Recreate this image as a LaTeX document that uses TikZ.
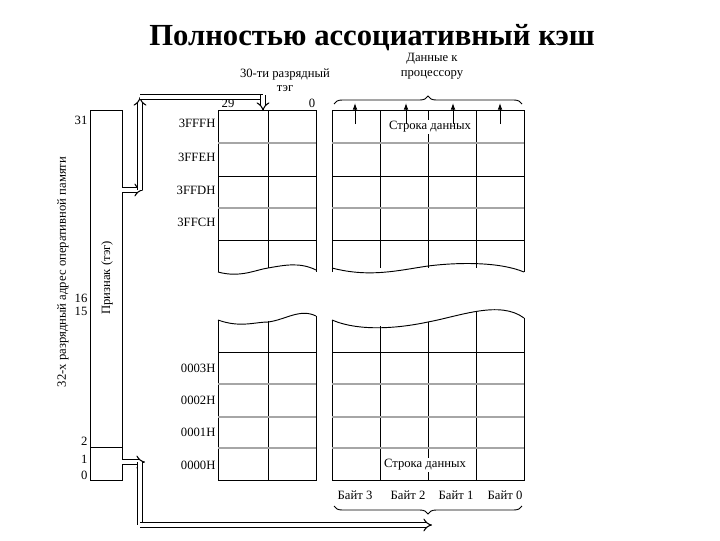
\documentclass[tikz,border=0pt]{standalone}
\usepackage{fontspec}
\setmainfont{Liberation Serif}
\usetikzlibrary{arrows.meta,decorations.pathreplacing}
\begin{document}
\begin{tikzpicture}[x=0.75pt,y=-0.75pt,
  grid/.style={line width=0.7pt},
  gl/.style={draw=gray!70,line width=0.9pt},
  lbl/.style={font=\fontsize{9.5}{11}\selectfont,inner sep=1pt},
  dbl/.style={draw=black,double=white,double distance=2.5pt,line width=0.8pt,-{Implies}},
  dbln/.style={draw=black,double=white,double distance=2.5pt,line width=0.8pt}]
\useasboundingbox (0,0) rectangle (720,540);
\node[font=\bfseries\fontsize{23}{26}\selectfont] (title) at (372,38) {Полностью ассоциативный кэш};
% address register
\draw[grid] (90,110) rectangle (122,480);
\draw[grid] (90,447) -- (122,447);
\foreach \t/\y in {31/120,16/298,15/311,2/441,1/459,0/475}
  \node[lbl,anchor=east] (n\t) at (89,\y) {\t};
\node[lbl,rotate=90] (addr) at (63,272) {32-х разрядный адрес оперативной памяти};
\node[lbl,rotate=90] (tagl) at (107,278) {Признак (тэг)};
% top tag table
\draw[grid] (218,272) -- (218,110) -- (316,110) -- (316,272);
\draw[grid] (268,110) -- (268,268);
\draw[gl] (218,143) -- (316,143);
\draw[grid] (218,176) -- (316,176);
\draw[gl] (218,208) -- (316,208);
\draw[grid] (218,240) -- (316,240);
\draw[grid] (218,272) .. controls (240,278) and (255,270) .. (268,268) .. controls (285,265) and (300,262) .. (316,270);
\foreach \t/\y in {3FFFH/123,3FFEH/157,3FFDH/190,3FFCH/222}
  \node[lbl,anchor=east] (t\t) at (217,\y) {\t};
\node[lbl] (b29) at (228,103) {29};
\node[lbl] (b0) at (312,103) {0};
\node[lbl] (tagt) at (285,75) {30-ти разрядный};
\node[lbl] (tagt2) at (285,89) {тэг};
% top data table
\draw[grid] (332,272) -- (332,110) -- (524,110) -- (524,272);
\foreach \x in {380,428,476} \draw[grid] (\x,110) -- (\x,268);
\draw[gl] (332,143) -- (524,143);
\draw[grid] (332,176) -- (524,176);
\draw[gl] (332,208) -- (524,208);
\draw[grid] (332,240) -- (524,240);
\draw[grid] (332,268) .. controls (370,278) and (400,270) .. (428,266) .. controls (460,262) and (500,262) .. (524,272);
\node[lbl,fill=white] (row1) at (430,127) {Строка данных};
\draw[grid,decorate,decoration={brace,amplitude=6pt}] (334,104) -- (522,104);
\node[lbl,align=center] (proc) at (432,66) {Данные к\\процессору};
\foreach \x in {355,406,453,500} \draw[grid,-{Latex[length=5pt,width=3.5pt]}] (\x,124) -- (\x,103);
% bottom tag table
\draw[grid] (218,320) .. controls (240,328) and (255,322) .. (268,322) .. controls (285,320) and (300,308) .. (316,316);
\draw[grid] (218,320) -- (218,480) -- (316,480) -- (316,316);
\draw[grid] (268,321) -- (268,480);
\draw[grid] (218,352) -- (316,352);
\draw[gl] (218,384) -- (316,384);
\draw[gl] (218,417) -- (316,417);
\draw[gl] (218,448) -- (316,448);
\foreach \t/\y in {0003H/368,0002H/400,0001H/432,0000H/465}
  \node[lbl,anchor=east] (t\t) at (217,\y) {\t};
% bottom data table
\draw[grid] (332,320) .. controls (360,332) and (400,328) .. (428,322) .. controls (460,316) and (500,300) .. (524,318);
\draw[grid] (332,320) -- (332,480) -- (524,480) -- (524,318);
\draw[grid] (380,326) -- (380,480);
\draw[grid] (428,322) -- (428,480);
\draw[grid] (476,311) -- (476,480);
\draw[grid] (332,352) -- (524,352);
\draw[gl] (332,384) -- (524,384);
\draw[gl] (332,417) -- (524,417);
\draw[gl] (332,448) -- (524,448);
\node[lbl,fill=white] (row2) at (425,465) {Строка данных};
\foreach \t/\x in {3/355,2/408,1/456,0/505}
  \node[lbl] (byte\t) at (\x,495) {Байт \t};
\draw[grid,decorate,decoration={brace,amplitude=6pt,mirror}] (334,506) -- (522,506);
% double arrows
\draw[dbl] (122,190) -- (143,190);
\draw[dbl] (140,190) -- (140,97);
\draw[dbln] (140,97) -- (263,97);
\draw[dbl] (263,95) -- (263,111);
\draw[dbl] (122,462) -- (145,462);
\draw[dbln] (140,462) -- (140,525);
\draw[dbl] (140,525) -- (432,525);
\end{tikzpicture}
\end{document}
